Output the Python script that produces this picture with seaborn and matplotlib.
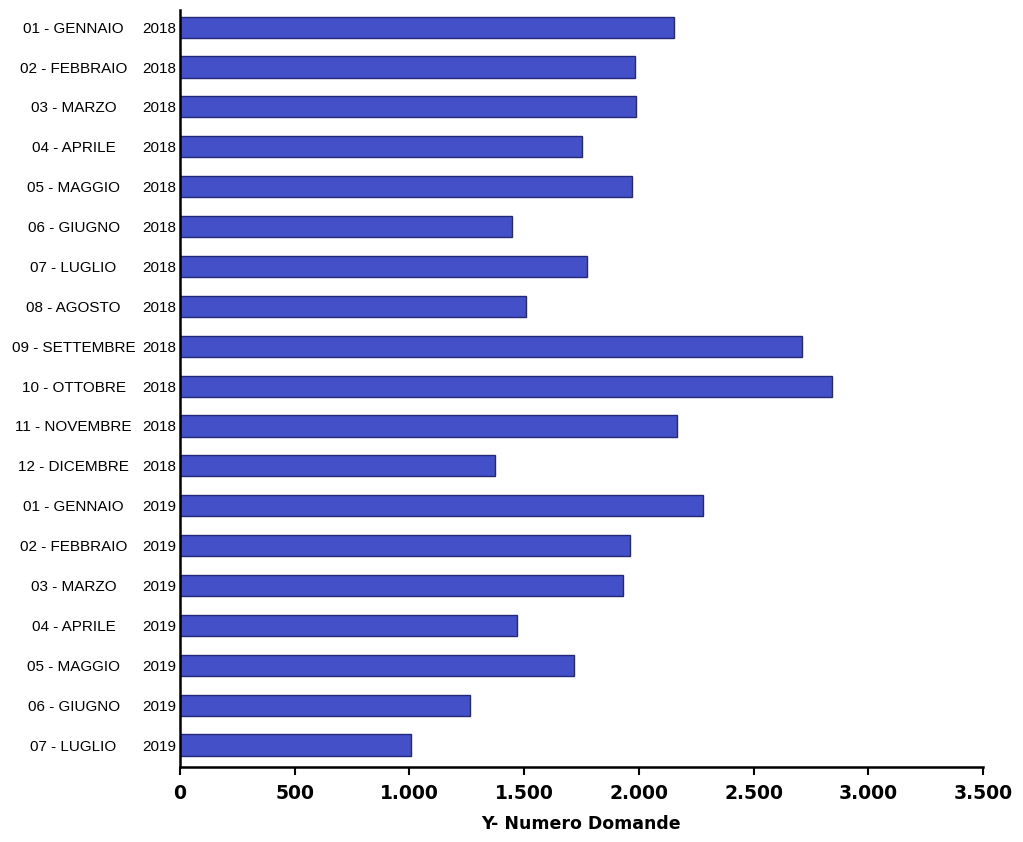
import matplotlib
matplotlib.use("Agg")
import matplotlib.pyplot as plt
import seaborn as sns
import pandas as pd

# Dati: numero domande per mese
mesi = [
    "01 - GENNAIO", "02 - FEBBRAIO", "03 - MARZO", "04 - APRILE", "05 - MAGGIO",
    "06 - GIUGNO", "07 - LUGLIO", "08 - AGOSTO", "09 - SETTEMBRE", "10 - OTTOBRE",
    "11 - NOVEMBRE", "12 - DICEMBRE",
    "01 - GENNAIO", "02 - FEBBRAIO", "03 - MARZO", "04 - APRILE", "05 - MAGGIO",
    "06 - GIUGNO", "07 - LUGLIO",
]
anni = ["2018"] * 12 + ["2019"] * 7
domande = [2153, 1983, 1988, 1752, 1970, 1447, 1774, 1508, 2711, 2842,
           2166, 1373, 2280, 1962, 1931, 1469, 1717, 1264, 1007]
x_ticks = [0, 500, 1000, 1500, 2000, 2500, 3000, 3500]

df = pd.DataFrame({"Mese": mesi, "Anno": anni, "Domande": domande})
df["Chiave"] = df["Anno"] + " " + df["Mese"]

sns.set_style("white")
plt.rcParams["font.family"] = ["Liberation Sans", "DejaVu Sans"]
plt.rcParams["text.color"] = "black"
plt.rcParams["xtick.color"] = "black"
plt.rcParams["ytick.color"] = "black"
plt.rcParams["axes.labelcolor"] = "black"

fig = plt.figure(figsize=(10.23, 8.42), dpi=100)
ax = fig.add_axes([180 / 1023, 75 / 842, 803 / 1023, 757 / 842])

sns.barplot(data=df, x="Domande", y="Chiave", orient="h", width=0.53,
            color="#4450c8", saturation=1, edgecolor="#24287a", linewidth=1,
            ax=ax)

ax.set_xlim(0, 3500)
ax.set_ylim(18.55, -0.43)

# Etichette asse Y: anno vicino all'asse, mese a sinistra
ax.set_yticks(range(len(df)))
ax.set_yticklabels(df["Anno"], fontsize=11)
ax.tick_params(axis="y", length=0, pad=3)
for i, m in enumerate(df["Mese"]):
    ax.text(-0.1325, i, m, transform=ax.get_yaxis_transform(),
            ha="center", va="center_baseline", fontsize=11)

ax.set_xticks(x_ticks)
ax.set_xticklabels([f"{v:,}".replace(",", ".") for v in x_ticks],
                   fontsize=13.5, fontweight="bold", family="DejaVu Sans")
ax.tick_params(axis="x", length=6, width=1.5, direction="out", pad=6,
               bottom=True)

ax.set_ylabel("")
ax.set_xlabel("Y- Numero Domande", fontsize=12.5, fontweight="bold",
              family="DejaVu Sans", labelpad=9)

sns.despine(ax=ax)
for s in ["left", "bottom"]:
    ax.spines[s].set_color("black")
    ax.spines[s].set_linewidth(1.8)

fig.savefig("out.png", dpi=100)
